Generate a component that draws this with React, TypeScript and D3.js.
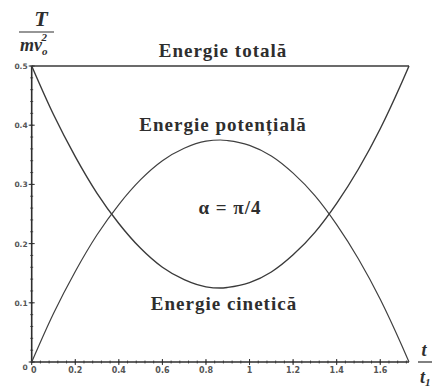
import React from "react";
import * as d3 from "d3";

// Time in units of t1, energies in units of m·v0²
const tValues = [0, 0.1, 0.2, 0.3, 0.4, 0.5, 0.6, 0.7, 0.8, 0.866, 0.9, 1.0, 1.1, 1.2, 1.3, 1.4, 1.5, 1.6, 1.7, 1.732];
const potential = [0, 0.082, 0.153, 0.215, 0.266, 0.308, 0.34, 0.361, 0.373, 0.375, 0.374, 0.366, 0.348, 0.319, 0.281, 0.232, 0.174, 0.106, 0.027, 0];
const kinetic = [0.5, 0.418, 0.347, 0.285, 0.234, 0.192, 0.16, 0.139, 0.127, 0.125, 0.126, 0.134, 0.152, 0.181, 0.219, 0.268, 0.326, 0.394, 0.473, 0.5];
const total = [0.5, 0.5, 0.5, 0.5, 0.5, 0.5, 0.5, 0.5, 0.5, 0.5, 0.5, 0.5, 0.5, 0.5, 0.5, 0.5, 0.5, 0.5, 0.5, 0.5];

const xTicks = [0, 0.2, 0.4, 0.6, 0.8, 1, 1.2, 1.4, 1.6];
const xTickLabels = ["0", "0.2", "0.4", "0.6", "0.8", "1", "1.2", "1.4", "1.6"];
const yTicks = [0, 0.1, 0.2, 0.3, 0.4, 0.5];
const yTickLabels = ["0", "0.1", "0.2", "0.3", "0.4", "0.5"];

const W = 434;
const H = 388;
const ink = "#2e2e2e";
const serif = "Liberation Serif, DejaVu Serif, serif";

export default function App() {
  const x = d3.scaleLinear().domain([0, tValues[tValues.length - 1]]).range([31.7, 409]);
  const y = d3.scaleLinear().domain([0, 0.5]).range([362, 66]);

  const line = (vals: number[]) =>
    d3
      .line<number>()
      .x((_, i) => x(tValues[i]))
      .y((d) => y(d))
      .curve(d3.curveMonotoneX)(vals) || "";

  const xMinor = d3.range(0, 1.7321, 0.04);
  const yMinor = d3.range(0, 0.5001, 0.02);

  const labelStyle = {
    fontFamily: serif,
    fontWeight: 700,
    fontSize: 19,
    letterSpacing: 1,
  } as React.CSSProperties;
  const titleStyle = {
    fontFamily: serif,
    fontWeight: 700,
    fontStyle: "italic",
  } as React.CSSProperties;

  return (
    <svg
      width={W}
      height={H}
      style={{ position: "absolute", left: 0, top: 0, background: "#fff" }}
    >
      {/* axes */}
      <line x1={x(0)} x2={x(1.732)} y1={y(0)} y2={y(0)} stroke={ink} strokeWidth={1.6} />
      <line x1={x(0)} x2={x(0)} y1={y(0)} y2={y(0.5)} stroke={ink} strokeWidth={1.6} />
      {xMinor.map((t, i) => (
        <line key={"xm" + i} x1={x(t)} x2={x(t)} y1={y(0) - 1.5} y2={y(0) + 1.5} stroke={ink} strokeWidth={0.8} />
      ))}
      {yMinor.map((v, i) => (
        <line key={"ym" + i} x1={x(0) - 1.5} x2={x(0) + 1.5} y1={y(v)} y2={y(v)} stroke={ink} strokeWidth={0.8} />
      ))}
      {xTicks.map((t, i) => (
        <g key={"xt" + i}>
          <line x1={x(t)} x2={x(t)} y1={y(0) - 3} y2={y(0) + 3} stroke={ink} strokeWidth={1} />
          <text
            x={x(t) + (i === 0 ? 2 : 0)}
            y={y(0) + 11}
            textAnchor="middle"
            style={{ fontFamily: "DejaVu Sans, sans-serif", fontWeight: 700, fontSize: 8 }}
            fill="#555"
          >
            {xTickLabels[i]}
          </text>
        </g>
      ))}
      {yTicks.map((v, i) => (
        <g key={"yt" + i}>
          <line x1={x(0) - 3} x2={x(0) + 3} y1={y(v)} y2={y(v)} stroke={ink} strokeWidth={1} />
          <text
            x={x(0) - 4}
            y={y(v) + (i === 0 ? 8 : 3)}
            textAnchor="end"
            style={{ fontFamily: "DejaVu Sans, sans-serif", fontWeight: 700, fontSize: 7.5 }}
            fill="#555"
          >
            {yTickLabels[i]}
          </text>
        </g>
      ))}

      {/* energy curves */}
      <path d={line(total)} fill="none" stroke="#3a3a3a" strokeWidth={1.6} />
      <path d={line(kinetic)} fill="none" stroke="#3a3a3a" strokeWidth={1.4} />
      <path d={line(potential)} fill="none" stroke="#404040" strokeWidth={1.2} />

      {/* curve labels */}
      <g fill={ink}>
        <text x={223} y={57} textAnchor="middle" style={labelStyle}>Energie totală</text>
        <text x={223} y={131} textAnchor="middle" style={labelStyle}>Energie potențială</text>
        <text x={224} y={310} textAnchor="middle" style={labelStyle}>Energie cinetică</text>
        <text x={230} y={214} textAnchor="middle" style={labelStyle}>α = π/4</text>
      </g>

      {/* y-axis title T / (m v0^2) */}
      <g fill={ink} style={titleStyle}>
        <text x={41} y={26} textAnchor="middle" fontSize={22}>T</text>
        <line x1={19} x2={54} y1={32} y2={32} stroke={ink} strokeWidth={1.2} />
        <text x={20} y={51} fontSize={18}>
          mv
          <tspan fontSize={11} dy={4}>o</tspan>
          <tspan fontSize={11} dx={-6} dy={-14}>2</tspan>
        </text>
      </g>

      {/* x-axis title t / t1 */}
      <g fill={ink} style={titleStyle}>
        <text x={424} y={356} textAnchor="middle" fontSize={18}>t</text>
        <line x1={418} x2={432} y1={362} y2={362} stroke={ink} strokeWidth={1.2} />
        <text x={420} y={383} fontSize={18}>
          t<tspan fontSize={11} dy={3}>1</tspan>
        </text>
      </g>
    </svg>
  );
}
